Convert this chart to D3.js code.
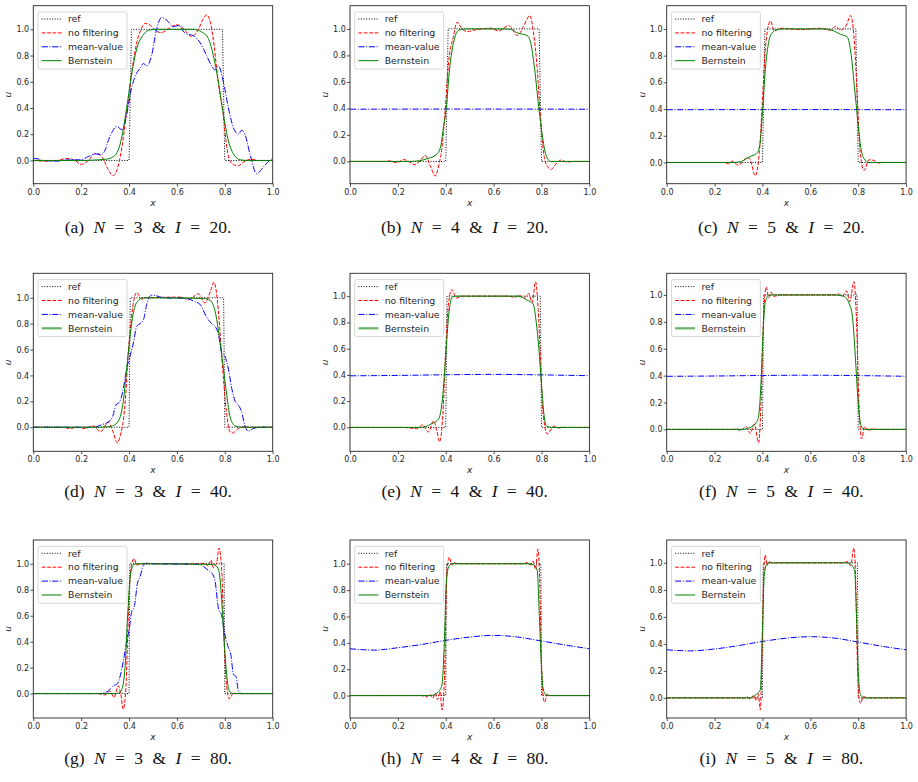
<!DOCTYPE html>
<html>
<head>
<meta charset="utf-8">
<script src="https://cdn.jsdelivr.net/npm/d3@7"></script>
<style>
  body { margin: 0; background: #fff; }
  svg { display: block; }
  .tick text { font-family: "DejaVu Sans", sans-serif; font-size: 8px; fill: #262626; }
  .tick line { stroke: #262626; stroke-width: 0.8; }
  .domain { display: none; }
</style>
</head>
<body>
<svg id="chart" width="918" height="782"></svg>
<script>
// panel captions
const panelLetters = ['a', 'b', 'c', 'd', 'e', 'f', 'g', 'h', 'i'];
const nValues = [3, 4, 5, 3, 4, 5, 3, 4, 5];
const iValues = [20, 20, 20, 40, 40, 40, 80, 80, 80];
const seriesNames = ['ref', 'no filtering', 'mean-value', 'Bernstein'];
const xTicks = [0, 0.2, 0.4, 0.6, 0.8, 1.0];
const yTicks = [0, 0.2, 0.4, 0.6, 0.8, 1.0];
// y limits of each panel (auto-scaled in the original)
const yMins = [-0.177, -0.168, -0.159, -0.186, -0.182, -0.163, -0.188, -0.170, -0.149];
const yMaxs = [1.180, 1.175, 1.174, 1.189, 1.174, 1.161, 1.183, 1.180, 1.169];

// reference step, one per row (I = 20, 40, 80)
const ref20 = [[0,0],[0.4,0],[0.41,1],[0.79,1],[0.8,0],[1,0]];
const ref40 = [[0,0],[0.4,0],[0.405,1],[0.795,1],[0.8,0],[1,0]];
const ref80 = [[0,0],[0.4,0],[0.403,1],[0.797,1],[0.8,0],[1,0]];

// (a) N=3, I=20
const noFilterA = [[0,0],[0.05,-0.005],[0.1,0.0],[0.14,0.015],[0.17,0.005],[0.2,-0.03],[0.23,0.0],[0.26,0.055],[0.29,0.02],[0.31,-0.06],[0.334,-0.115],[0.35,-0.07],[0.37,0.1],[0.385,0.3],[0.397,0.45],[0.41,0.65],[0.43,0.88],[0.45,1.0],[0.467,1.045],[0.49,1.03],[0.515,0.985],[0.536,0.975],[0.56,1.0],[0.6,1.035],[0.63,1.0],[0.66,0.945],[0.69,1.0],[0.71,1.08],[0.724,1.11],[0.74,1.05],[0.755,0.88],[0.766,0.7],[0.78,0.5],[0.79,0.4],[0.805,0.15],[0.82,0.0],[0.84,-0.035],[0.857,-0.04],[0.88,-0.01],[0.91,0.01],[0.94,0.0],[1,0]];
const meanA = [[0,0.015],[0.02,0.012],[0.04,0.0],[0.1,-0.005],[0.15,0.005],[0.195,0.005],[0.23,0.03],[0.26,0.05],[0.285,0.045],[0.3,0.08],[0.313,0.15],[0.33,0.22],[0.348,0.26],[0.37,0.235],[0.39,0.35],[0.41,0.55],[0.43,0.66],[0.445,0.7],[0.46,0.74],[0.474,0.72],[0.494,0.8],[0.515,1.0],[0.536,1.09],[0.557,1.07],[0.585,1.02],[0.606,1.03],[0.634,0.97],[0.669,0.95],[0.696,0.9],[0.724,0.8],[0.745,0.72],[0.759,0.69],[0.773,0.72],[0.794,0.6],[0.815,0.4],[0.836,0.25],[0.857,0.2],[0.87,0.23],[0.884,0.2],[0.905,0.05],[0.933,-0.1],[0.961,-0.05],[0.98,-0.01],[1,0.015]];
const bernA = [[0,0],[0.2,0],[0.25,0.003],[0.306,0.01],[0.334,0.03],[0.35,0.06],[0.362,0.12],[0.377,0.25],[0.39,0.4],[0.41,0.65],[0.432,0.85],[0.46,0.96],[0.487,0.995],[0.52,1.0],[0.669,1.0],[0.703,0.98],[0.731,0.93],[0.752,0.8],[0.773,0.6],[0.794,0.35],[0.815,0.15],[0.836,0.05],[0.864,0.005],[0.9,0],[1,0]];

// (b) N=4, I=20
const noFilterB = [[0,0],[0.15,0],[0.16,0.005],[0.196,-0.01],[0.223,0.015],[0.245,0.0],[0.272,-0.025],[0.295,0.01],[0.314,0.045],[0.335,-0.03],[0.356,-0.11],[0.372,-0.02],[0.384,0.1],[0.398,0.4],[0.412,0.75],[0.433,0.95],[0.447,1.05],[0.468,1.0],[0.489,0.98],[0.53,0.995],[0.587,1.005],[0.62,0.985],[0.663,1.025],[0.7,0.95],[0.725,1.02],[0.751,1.1],[0.768,0.95],[0.782,0.7],[0.793,0.4],[0.81,0.05],[0.825,-0.04],[0.84,-0.06],[0.86,-0.02],[0.88,0.01],[0.908,-0.005],[0.93,0],[1,0]];
const meanB = [[0,0.394],[0.5,0.395],[1,0.394]];
const bernB = [[0,0],[0.25,0],[0.29,0.005],[0.32,0.02],[0.356,0.045],[0.377,0.1],[0.39,0.25],[0.402,0.4],[0.416,0.7],[0.433,0.9],[0.454,0.99],[0.48,1.0],[0.642,1.0],[0.677,0.995],[0.698,0.97],[0.72,0.96],[0.74,0.95],[0.754,0.9],[0.771,0.7],[0.789,0.4],[0.803,0.2],[0.817,0.06],[0.838,0],[1,0]];

// (c) N=5, I=20
const noFilterC = [[0,0],[0.24,0],[0.258,-0.01],[0.272,0.01],[0.3,-0.02],[0.32,0.01],[0.335,0.04],[0.349,0.02],[0.37,-0.1],[0.388,0.1],[0.401,0.5],[0.412,0.85],[0.433,1.06],[0.45,0.985],[0.475,1.005],[0.559,0.995],[0.642,1.005],[0.684,0.99],[0.705,1.02],[0.726,0.99],[0.751,1.03],[0.768,1.1],[0.782,0.95],[0.796,0.5],[0.807,0.1],[0.824,-0.06],[0.845,0.02],[0.866,0.015],[0.887,-0.005],[0.9,0],[1,0]];
const meanC = [[0,0.395],[0.5,0.396],[1,0.395]];
const bernC = [[0,0],[0.28,0],[0.307,0.005],[0.335,0.03],[0.356,0.05],[0.374,0.065],[0.388,0.12],[0.401,0.4],[0.412,0.7],[0.426,0.9],[0.44,0.97],[0.461,0.995],[0.49,1.0],[0.66,1.0],[0.698,0.985],[0.726,0.96],[0.754,0.94],[0.771,0.8],[0.785,0.55],[0.796,0.35],[0.81,0.12],[0.824,0.03],[0.845,0],[1,0]];

// (d) N=3, I=40
const noFilterD = [[0,0],[0.12,0],[0.153,-0.01],[0.185,0.0],[0.216,-0.01],[0.25,0.01],[0.281,-0.035],[0.313,0.04],[0.33,-0.02],[0.351,-0.12],[0.365,-0.05],[0.376,0.05],[0.386,0.25],[0.394,0.5],[0.41,0.85],[0.432,1.04],[0.453,0.99],[0.474,1.0],[0.613,1.005],[0.648,0.985],[0.69,1.03],[0.717,0.96],[0.74,1.05],[0.755,1.12],[0.773,0.9],[0.787,0.55],[0.808,0.1],[0.82,-0.03],[0.831,-0.045],[0.857,-0.01],[0.884,0.005],[0.9,0],[1,0]];
const meanD = [[0,0],[0.25,0],[0.265,0.005],[0.286,0.02],[0.313,0.04],[0.331,0.08],[0.345,0.17],[0.362,0.2],[0.376,0.3],[0.39,0.45],[0.404,0.55],[0.418,0.65],[0.432,0.78],[0.446,0.8],[0.46,0.83],[0.474,0.95],[0.494,1.02],[0.515,1.015],[0.543,1.0],[0.64,0.995],[0.669,0.975],[0.696,0.95],[0.724,0.85],[0.745,0.8],[0.759,0.78],[0.773,0.72],[0.787,0.58],[0.8,0.55],[0.815,0.45],[0.829,0.3],[0.843,0.2],[0.857,0.17],[0.87,0.12],[0.884,0.01],[0.898,-0.03],[0.919,-0.01],[0.947,0],[1,0]];
const bernD = [[0,0],[0.28,0],[0.32,0.005],[0.341,0.02],[0.359,0.06],[0.376,0.2],[0.39,0.45],[0.404,0.7],[0.42,0.9],[0.439,0.98],[0.46,1.0],[0.71,0.995],[0.738,0.98],[0.759,0.9],[0.773,0.75],[0.791,0.5],[0.808,0.25],[0.822,0.08],[0.843,0.01],[0.87,0],[1,0]];

// (e) N=4, I=40
const noFilterE = [[0,0],[0.22,0],[0.251,-0.005],[0.279,-0.01],[0.304,0.02],[0.328,-0.035],[0.349,0.05],[0.362,-0.02],[0.374,-0.11],[0.388,0.1],[0.4,0.6],[0.412,0.95],[0.426,1.05],[0.444,0.985],[0.468,1.0],[0.628,1.0],[0.66,1.0],[0.691,0.99],[0.705,1.01],[0.726,0.985],[0.747,1.02],[0.761,0.95],[0.775,1.11],[0.786,0.9],[0.796,0.5],[0.807,0.1],[0.824,-0.05],[0.852,0.01],[0.873,-0.005],[0.89,0],[1,0]];
const meanE = [[0,0.393],[0.2,0.396],[0.4,0.401],[0.6,0.404],[0.8,0.4],[1,0.394]];
const bernE = [[0,0],[0.29,0],[0.314,0.005],[0.342,0.03],[0.363,0.05],[0.374,0.08],[0.388,0.25],[0.4,0.55],[0.412,0.85],[0.426,0.99],[0.44,1.0],[0.7,1.0],[0.74,0.97],[0.765,0.94],[0.778,0.8],[0.789,0.6],[0.799,0.35],[0.81,0.1],[0.821,0.01],[0.84,0],[1,0]];

// (f) N=5, I=40
const noFilterF = [[0,0],[0.28,0],[0.293,0.005],[0.307,-0.01],[0.332,0.02],[0.349,-0.03],[0.366,0.04],[0.384,-0.1],[0.394,0.2],[0.405,0.85],[0.416,1.06],[0.426,0.98],[0.436,1.02],[0.447,0.99],[0.475,1.0],[0.7,1.0],[0.712,1.01],[0.733,0.99],[0.751,1.03],[0.765,0.95],[0.782,1.1],[0.793,0.8],[0.803,0.2],[0.814,-0.07],[0.827,0.02],[0.845,-0.01],[0.859,0.005],[0.875,0],[1,0]];
const meanF = [[0,0.395],[0.2,0.397],[0.4,0.401],[0.6,0.403],[0.8,0.4],[1,0.395]];
const bernF = [[0,0],[0.32,0],[0.335,0.005],[0.356,0.02],[0.374,0.05],[0.384,0.1],[0.394,0.35],[0.402,0.7],[0.412,0.95],[0.426,0.995],[0.44,1.0],[0.7,1.0],[0.74,0.99],[0.761,0.94],[0.775,0.85],[0.786,0.6],[0.796,0.3],[0.806,0.08],[0.817,0.01],[0.83,0],[1,0]];

// (g) N=3, I=80
const noFilterG = [[0,0],[0.27,0],[0.3,-0.01],[0.32,0.02],[0.337,-0.03],[0.355,0.06],[0.365,0.0],[0.376,-0.12],[0.387,0.05],[0.397,0.6],[0.407,0.95],[0.421,1.04],[0.432,0.99],[0.446,1.0],[0.696,1.0],[0.717,1.005],[0.731,0.98],[0.742,1.03],[0.752,0.97],[0.766,1.01],[0.776,1.12],[0.787,0.95],[0.797,0.4],[0.808,0.05],[0.819,-0.04],[0.836,0.005],[0.85,0],[1,0]];
const meanG = [[0,0],[0.28,0],[0.292,0.005],[0.313,0.02],[0.334,0.06],[0.351,0.075],[0.365,0.15],[0.376,0.25],[0.387,0.37],[0.401,0.5],[0.411,0.63],[0.422,0.67],[0.435,0.85],[0.446,0.9],[0.46,0.99],[0.474,1.005],[0.501,1.0],[0.696,0.995],[0.717,0.97],[0.731,0.95],[0.745,0.93],[0.759,0.87],[0.773,0.66],[0.787,0.6],[0.801,0.45],[0.812,0.37],[0.825,0.3],[0.836,0.15],[0.847,0.13],[0.857,0.02],[0.87,0],[1,0]];
const bernG = [[0,0],[0.34,0],[0.355,0.005],[0.369,0.03],[0.383,0.2],[0.394,0.6],[0.407,0.93],[0.421,0.995],[0.44,1.0],[0.752,0.995],[0.773,0.96],[0.784,0.8],[0.794,0.5],[0.805,0.2],[0.819,0.02],[0.836,0],[1,0]];

// (h) N=4, I=80
const noFilterH = [[0,0],[0.3,0],[0.321,-0.01],[0.335,0.01],[0.346,-0.02],[0.356,0.02],[0.366,-0.03],[0.377,0.03],[0.384,-0.11],[0.394,0.1],[0.4,0.6],[0.405,0.95],[0.415,1.05],[0.425,0.99],[0.436,1.01],[0.447,1.0],[0.726,1.0],[0.74,1.01],[0.754,0.99],[0.765,1.02],[0.775,0.96],[0.785,1.11],[0.792,0.9],[0.799,0.3],[0.806,0.0],[0.813,-0.05],[0.824,0.01],[0.838,0],[1,0]];
const meanH = [[0,0.355],[0.1,0.345],[0.2,0.363],[0.3,0.388],[0.4,0.419],[0.5,0.444],[0.6,0.457],[0.7,0.444],[0.8,0.414],[0.9,0.383],[1,0.355]];
const bernH = [[0,0],[0.34,0],[0.349,0.005],[0.37,0.03],[0.384,0.08],[0.394,0.4],[0.402,0.85],[0.413,0.98],[0.426,1.0],[0.75,1.0],[0.768,0.99],[0.782,0.95],[0.791,0.6],[0.799,0.25],[0.807,0.05],[0.817,0.01],[0.83,0],[1,0]];

// (i) N=5, I=80
const noFilterI = [[0,0],[0.31,0],[0.321,-0.005],[0.335,0.01],[0.349,-0.01],[0.363,0.02],[0.374,-0.02],[0.383,0.03],[0.391,-0.09],[0.398,0.3],[0.405,0.9],[0.412,1.06],[0.419,0.98],[0.427,1.01],[0.44,1.0],[0.74,1.0],[0.754,1.01],[0.768,0.98],[0.782,1.11],[0.789,0.9],[0.796,0.3],[0.803,0.0],[0.81,-0.04],[0.821,0.01],[0.838,0],[1,0]];
const meanI = [[0,0.356],[0.1,0.348],[0.2,0.362],[0.3,0.387],[0.4,0.418],[0.5,0.442],[0.6,0.453],[0.7,0.443],[0.8,0.413],[0.9,0.382],[1,0.356]];
const bernI = [[0,0],[0.35,0],[0.356,0.005],[0.377,0.03],[0.391,0.06],[0.4,0.5],[0.408,0.92],[0.419,0.99],[0.43,1.0],[0.75,1.0],[0.768,0.99],[0.785,0.94],[0.793,0.6],[0.8,0.2],[0.81,0.02],[0.825,0],[1,0]];

const refRows = [ref20, ref40, ref80];
const noFilterAll = [noFilterA, noFilterB, noFilterC, noFilterD, noFilterE, noFilterF, noFilterG, noFilterH, noFilterI];
const meanAll = [meanA, meanB, meanC, meanD, meanE, meanF, meanG, meanH, meanI];
const bernAll = [bernA, bernB, bernC, bernD, bernE, bernF, bernG, bernH, bernI];

// layout
const colLeft = [33.3, 350, 666.7];
const rowTop = [5.7, 273.3, 540];
const axW = 239.4, axH = 178;
const captionY = [233, 497, 764];

// line styles
const styles = [
  { color: '#000000', dash: '1,1.6', width: 1 },
  { color: '#ff0000', dash: '3.8,1.6', width: 1 },
  { color: '#0000ff', dash: '6.2,1.6,1,1.6', width: 1 },
  { color: '#008000', dash: null, width: 1 }
];

const svg = d3.select('#chart');

panelLetters.forEach((letter, p) => {
  const row = Math.floor(p / 3), col = p % 3;
  const g = svg.append('g')
    .attr('transform', 'translate(' + colLeft[col] + ',' + rowTop[row] + ')');

  const x = d3.scaleLinear().domain([0, 1]).range([0, axW]);
  const y = d3.scaleLinear().domain([yMins[p], yMaxs[p]]).range([axH, 0]);

  g.append('g')
    .attr('transform', 'translate(0,' + axH + ')')
    .call(d3.axisBottom(x).tickValues(xTicks).tickFormat(d3.format('.1f')).tickSize(3).tickPadding(2.5));
  g.append('g')
    .call(d3.axisLeft(y).tickValues(yTicks).tickFormat(d3.format('.1f')).tickSize(3).tickPadding(1.2));

  const smooth = d3.line().x(d => x(d[0])).y(d => y(d[1])).curve(d3.curveMonotoneX);
  const straight = d3.line().x(d => x(d[0])).y(d => y(d[1]));

  const series = [refRows[row], noFilterAll[p], meanAll[p], bernAll[p]];
  series.forEach((pts, s) => {
    g.append('path')
      .attr('d', s === 0 ? straight(pts) : smooth(pts))
      .attr('fill', 'none')
      .attr('stroke', styles[s].color)
      .attr('stroke-width', styles[s].width)
      .attr('stroke-dasharray', styles[s].dash)
      .attr('stroke-linejoin', 'round');
  });

  // frame
  g.append('rect')
    .attr('width', axW).attr('height', axH)
    .attr('fill', 'none').attr('stroke', '#262626').attr('stroke-width', 0.9);

  // legend
  const leg = g.append('g').attr('transform', 'translate(4.7,6.3)');
  leg.append('rect')
    .attr('width', 89).attr('height', 57).attr('rx', 2)
    .attr('fill', '#fff').attr('fill-opacity', 0.85)
    .attr('stroke', '#cccccc').attr('stroke-width', 0.8);
  seriesNames.forEach((name, s) => {
    const ly = 7 + s * 13.9;
    const thick = (row === 1 && s === 3);
    leg.append('line')
      .attr('x1', 3.7).attr('x2', 23.7).attr('y1', ly).attr('y2', ly)
      .attr('stroke', styles[s].color)
      .attr('stroke-width', thick ? 2.2 : styles[s].width)
      .attr('stroke-opacity', thick ? 0.6 : 1)
      .attr('stroke-dasharray', styles[s].dash);
    leg.append('text')
      .attr('x', 30).attr('y', ly).attr('dy', '0.35em')
      .style('font-family', '"DejaVu Sans", sans-serif')
      .style('font-size', '9.3px').style('fill', '#262626')
      .text(name);
  });

  // axis labels
  g.append('text')
    .attr('transform', 'translate(-25,' + axH / 2 + ') rotate(-90)')
    .attr('text-anchor', 'middle').attr('dy', '0.35em')
    .style('font-family', '"DejaVu Sans", sans-serif').style('font-style', 'italic')
    .style('font-size', '9px').style('fill', '#262626')
    .text('u');
  g.append('text')
    .attr('x', axW / 2).attr('y', axH + 19).attr('text-anchor', 'middle').attr('dy', '0.35em')
    .style('font-family', '"DejaVu Sans", sans-serif').style('font-style', 'italic')
    .style('font-size', '9px').style('fill', '#262626')
    .text('x');

  // caption (TeX-like wide spacing around = and &)
  const cap = svg.append('text')
    .attr('x', colLeft[col] + axW / 2 - 5).attr('y', captionY[row])
    .attr('text-anchor', 'middle')
    .style('font-family', '"Liberation Serif", "DejaVu Serif", serif')
    .style('font-size', '17.5px').style('fill', '#111')
    .style('word-spacing', '5px')
    .style('white-space', 'pre');
  cap.append('tspan').text('(' + letter + ') ');
  cap.append('tspan').style('font-style', 'italic').text('N');
  cap.append('tspan').text(' = ' + nValues[p] + ' & ');
  cap.append('tspan').style('font-style', 'italic').text('I');
  cap.append('tspan').text(' = ' + iValues[p] + '.');
});
</script>
</body>
</html>
